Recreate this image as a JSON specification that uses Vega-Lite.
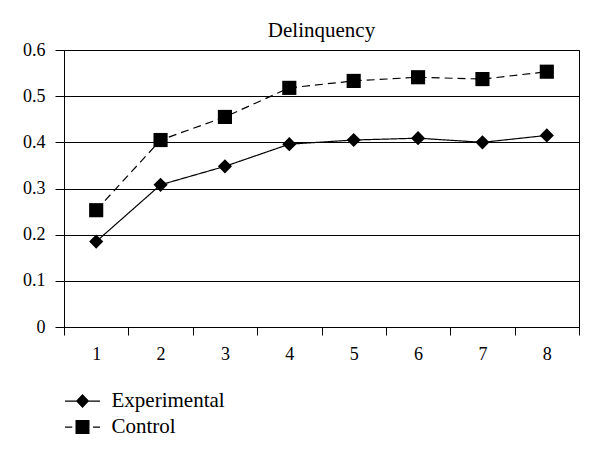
{
  "$schema": "https://vega.github.io/schema/vega-lite/v6.json",
  "width": 515,
  "height": 277,
  "autosize": {"type": "none"},
  "padding": {"left": 64, "top": 50, "right": 21, "bottom": 133},
  "background": "white",
  "title": {"text": "Delinquency", "font": "Liberation Serif", "fontSize": 21, "fontWeight": "normal", "color": "black", "anchor": "middle", "offset": 0},
  "data": {
    "values": [
      {"period": "1", "group": "Experimental", "value": 0.185},
      {"period": "2", "group": "Experimental", "value": 0.308},
      {"period": "3", "group": "Experimental", "value": 0.348},
      {"period": "4", "group": "Experimental", "value": 0.396},
      {"period": "5", "group": "Experimental", "value": 0.405},
      {"period": "6", "group": "Experimental", "value": 0.409},
      {"period": "7", "group": "Experimental", "value": 0.400},
      {"period": "8", "group": "Experimental", "value": 0.415},
      {"period": "1", "group": "Control", "value": 0.253},
      {"period": "2", "group": "Control", "value": 0.405},
      {"period": "3", "group": "Control", "value": 0.455},
      {"period": "4", "group": "Control", "value": 0.518},
      {"period": "5", "group": "Control", "value": 0.533},
      {"period": "6", "group": "Control", "value": 0.541},
      {"period": "7", "group": "Control", "value": 0.537},
      {"period": "8", "group": "Control", "value": 0.553}
    ]
  },
  "encoding": {
    "x": {
      "field": "period", "type": "ordinal",
      "scale": {"type": "band", "paddingInner": 0, "paddingOuter": 0},
      "axis": {"title": null, "labelAngle": 0, "tickBand": "extent", "grid": false, "tickSize": 8, "labelPadding": 10, "labelFontSize": 18}
    },
    "y": {
      "field": "value", "type": "quantitative",
      "scale": {"domain": [0, 0.6], "nice": false, "zero": true},
      "axis": {"title": null, "values": [0, 0.1, 0.2, 0.3, 0.4, 0.5, 0.6], "format": ".1~f", "grid": true, "gridColor": "black", "gridOpacity": 1, "gridWidth": 1, "tickSize": 9, "labelPadding": 10, "labelFontSize": 18}
    }
  },
  "layer": [
    {
      "mark": {"type": "line", "color": "black", "strokeWidth": 1.2},
      "encoding": {
        "detail": {"field": "group", "type": "nominal"},
        "strokeDash": {
          "condition": {"test": "datum.group === 'Control'", "value": [8, 5]},
          "value": [1, 0]
        }
      }
    },
    {
      "transform": [{"filter": "datum.group === 'Experimental'"}],
      "mark": {"type": "point", "shape": "diamond", "filled": true, "color": "black", "opacity": 1, "size": 200}
    },
    {
      "transform": [{"filter": "datum.group === 'Control'"}],
      "mark": {"type": "point", "shape": "square", "filled": true, "color": "black", "opacity": 1, "size": 200}
    },
    {
      "mark": {"type": "point", "filled": true, "color": "black", "opacity": 0, "size": 200},
      "encoding": {
        "shape": {
          "field": "group", "type": "nominal",
          "scale": {
            "domain": ["Experimental", "Control"],
            "range": ["M-1.4,-0.05H1.4V0.05H-1.4ZM0,-0.56L0.53,0L0,0.56L-0.53,0Z", "M-1.4,-0.05H-0.82V0.05H-1.4ZM0.84,-0.05H1.4V0.05H0.84ZM-0.56,-0.56H0.56V0.56H-0.56Z"]
          },
          "legend": {
            "title": null,
            "orient": "none",
            "legendX": 5.5,
            "legendY": 338,
            "direction": "vertical",
            "padding": 0,
            "rowPadding": 3,
            "symbolSize": 625,
            "symbolOpacity": 1,
            "symbolFillColor": "black",
            "symbolStrokeColor": "black",
            "symbolStrokeWidth": 0.3,
            "labelOffset": 16,
            "labelFontSize": 21,
            "labelColor": "black",
            "labelFont": "Liberation Serif"
          }
        }
      }
    }
  ],
  "config": {
    "font": "Liberation Serif",
    "view": {"stroke": "black", "strokeWidth": 1},
    "axis": {"domainColor": "black", "tickColor": "black", "labelColor": "black", "labelFont": "Liberation Serif", "domainWidth": 1, "tickWidth": 1}
  }
}
